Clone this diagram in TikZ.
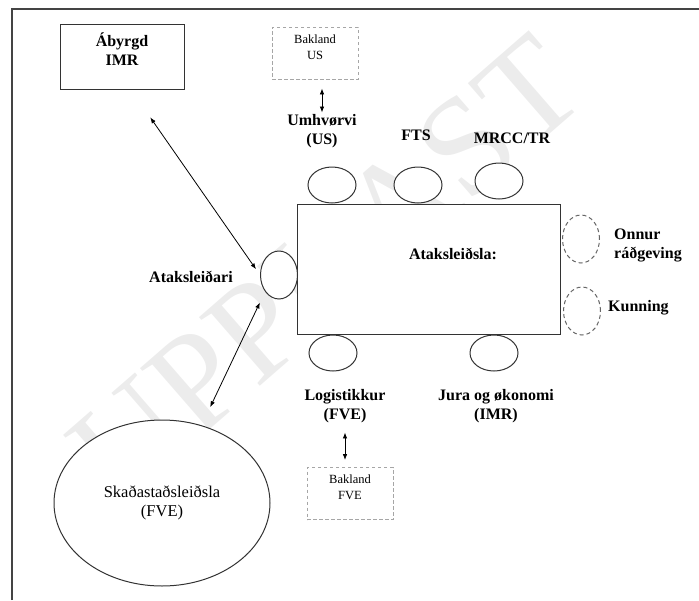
\documentclass[tikz,border=0pt]{standalone}
\usepackage{fontspec}
\setmainfont{Liberation Serif}
\usepackage{tikz}
\usetikzlibrary{positioning,arrows.meta,calc,shapes.geometric}
\definecolor{cLine} {HTML}{333333}
\definecolor{cFrame}{HTML}{444444}
\definecolor{cDash} {HTML}{666666}
\definecolor{cBak}  {HTML}{A6A6A6}
\definecolor{cWater}{HTML}{ECECEC}
\tikzset{
  >={Latex[length=6pt,width=4.5pt]},
  sbox/.style={draw=cLine,line width=1pt,fill=white,inner sep=0pt},
  sell/.style={ellipse,draw=cLine,line width=1pt,fill=white,inner sep=0pt,
               minimum width=48pt,minimum height=36pt},
  svell/.style={sell,minimum width=37pt,minimum height=48pt},
  sdsh/.style={svell,draw=cDash,dash pattern=on 4pt off 3pt},
  sbak/.style={draw=cBak,dash pattern=on 3.5pt off 2.5pt,line width=0.8pt,align=center,
               minimum width=86pt,minimum height=52pt,text depth=12pt,
               font=\fontsize{12.5}{16}\selectfont},
  slbl/.style={align=center,inner sep=1pt,font=\fontsize{16}{19}\selectfont\bfseries},
  sar/.style={<->,line width=0.8pt,black},
}
\begin{document}
\begin{tikzpicture}[x=1pt,y=-1pt]
    \useasboundingbox (0,0) rectangle (699,600);
    \node[rotate=41,text=cWater,font=\fontsize{140}{140}\selectfont] (wm) at (326,268) {UPPKAST};
    \draw[cFrame,line width=1.2pt] (12,600) -- (12,9) -- (699,9);
    % boxes
    \node[sbox,slbl,minimum width=124pt,minimum height=65pt,text depth=15pt] (abyrgd) at (122,56.5) {Ábyrgd\\IMR};
    \node[sbak] (bakus) at (315,53) {Bakland\\US};
    \node[sbak] (bakfve) at (350,493.5) {Bakland\\FVE};
    \node[sbox,minimum width=263pt,minimum height=130pt] (atl) at (428.5,269) {};
    \node[slbl] (latl) at (453,254) {Ataksleiðsla:};
    % seats
    \node[sell] (eumh) at (332,185) {};
    \node[sell] (efts) at (418,185) {};
    \node[sell] (emrcc) at (499,181) {};
    \node[sell] (elog) at (333,353) {};
    \node[sell] (ejur) at (494,353) {};
    \node[svell] (atak) at (279,275) {};
    \node[sdsh] (eonn) at (581,239) {};
    \node[sdsh] (ekun) at (582,311) {};
    \node[sell,minimum width=216pt,minimum height=166pt,
          font=\fontsize{16.5}{19}\selectfont,align=center] (skada) at (162,503) {Skaðastaðsleiðsla\\(FVE)};
    % labels
    \node[slbl] (lumh) at (322,131.5) {Umhvørvi\\(US)};
    \node[slbl] (lfts) at (416,135) {FTS};
    \node[slbl] (lmrcc) at (512,138) {MRCC/TR};
    \node[slbl] (latak) at (191,277) {Ataksleiðari};
    \node[slbl,anchor=west,align=left] (lonn) at (613,245) {Onnur\\ráðgeving};
    \node[slbl,anchor=west] (lkun) at (607,308) {Kunning};
    \node[slbl] (llog) at (345,406.5) {Logistikkur\\(FVE)};
    \node[slbl] (ljur) at (496,406) {Jura og økonomi\\(IMR)};
    % arrows
    \draw[sar,shorten <=34pt,shorten >=7pt] (abyrgd.-75) -- (atak.west);
    \draw[sar,shorten <=12pt,shorten >=20pt] (atak.-130) -- (skada.63);
    \draw[sar,shorten <=9pt,shorten >=1pt] (bakus.south -| lumh.north) -- (lumh.north);
    \draw[sar,shorten <=8pt,shorten >=7pt] (llog.south) -- (llog.south |- bakfve.north);
\end{tikzpicture}
\end{document}
